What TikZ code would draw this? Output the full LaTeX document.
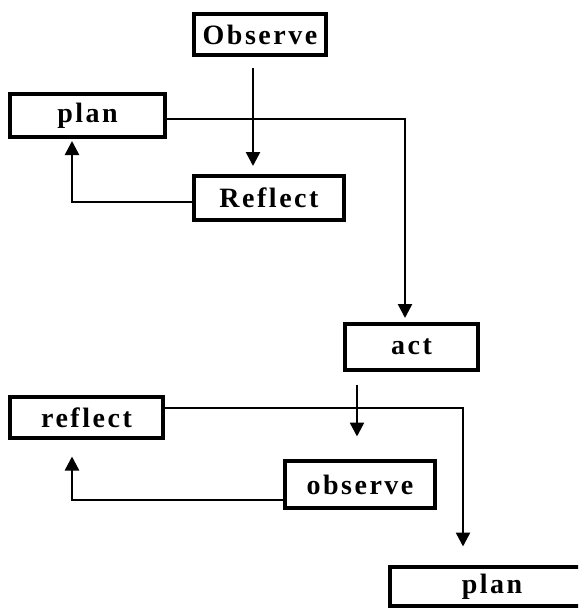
\documentclass[tikz,border=0pt]{standalone}
\usepackage{fontspec}
\newfontfamily\boxfont[LetterSpace=9]{Liberation Serif}
\usetikzlibrary{arrows.meta,calc}
\begin{document}
\begin{tikzpicture}[x=1pt,y=-1pt,
  stage/.style={draw, line width=4pt, inner sep=0pt,
    font=\boxfont\bfseries\fontsize{28}{32}\selectfont},
  flow/.style={line width=2.5pt, -{Triangle[width=14pt,length=14pt]}}]
\useasboundingbox (0,0) rectangle (578,610);
\clip (0,0) rectangle (578,610);

% first cycle
\node[stage, minimum width=132pt, minimum height=41pt] (obs1) at (260,34.5) {Observe};
\node[stage, minimum width=155pt, minimum height=43pt] (plan1) at (87.5,115.5) {plan};
\node[stage, minimum width=150pt, minimum height=44pt] (rfl1) at (269,198) {Reflect};
\node[stage, minimum width=133pt, minimum height=46pt] (act) at (411.5,347) {act};

% second cycle
\node[stage, minimum width=153pt, minimum height=41pt] (rfl2) at (86.5,417.5) {reflect};
\node[stage, minimum width=150pt, minimum height=47pt] (obs2) at (360,484.5) {observe};
\node[stage, minimum width=204pt, minimum height=39pt] (plan2) at (492,586.5) {plan};

% connectors
\draw[flow, shorten <=11pt, shorten >=8pt]
  ($(obs1.south)+(-7,0)$) -- ($(rfl1.north)+(-16,0)$);
\draw[flow, shorten >=2pt]
  ($(rfl1.west)+(0,4)$) -| ($(plan1.south)+(-15.5,0)$);
\draw[flow, shorten >=4pt]
  ($(plan1.east)+(0,3.5)$) -| ($(act.north)+(-6.5,0)$);
\draw[flow, shorten <=12.5pt, shorten >=22.5pt]
  ($(act.south)+(-54.5,0)$) -- ($(obs2.north)+(-3,0)$);
\draw[flow, shorten >=18.5pt]
  ($(rfl2.east)+(0,-9.5)$) -| ($(plan2.north)+(-29,0)$);
\draw[flow, shorten >=16.5pt]
  ($(obs2.west)+(0,15.5)$) -| ($(rfl2.south)+(-14.5,0)$);
\end{tikzpicture}
\end{document}
